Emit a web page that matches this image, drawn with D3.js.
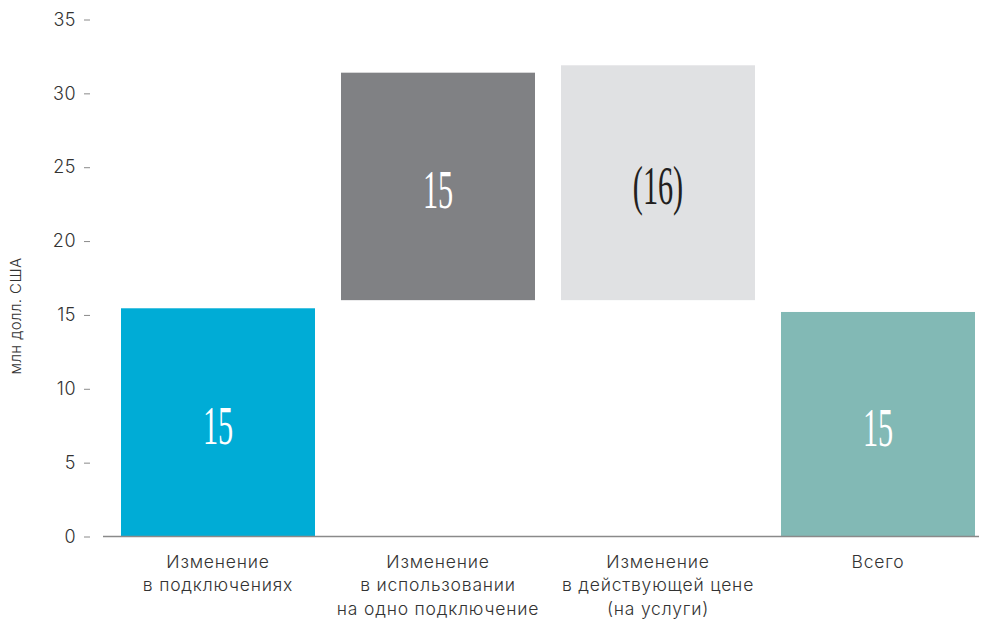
<!DOCTYPE html>
<html>
<head>
<meta charset="utf-8">
<script src="https://cdn.jsdelivr.net/npm/d3@7"></script>
<style>
  html, body { margin: 0; padding: 0; background: #fff; }
  svg { display: block; }
</style>
</head>
<body>
<svg id="chart" width="982" height="619"></svg>
<script>
// Revenue bridge, million US dollars
const categories = [
  ["Изменение", "в подключениях"],
  ["Изменение", "в использовании", "на одно подключение"],
  ["Изменение", "в действующей цене", "(на услуги)"],
  ["Всего"]
];
const bases  = [0, 16.0, 16.0, 0];        // where each bar starts
const values = [15.45, 15.4, -15.9, 15.2]; // change shown by each bar
const yTicks = [0, 5, 10, 15, 20, 25, 30, 35];
const colors = ["#00acd6", "#808184", "#e0e1e3", "#82b9b5"];
const labelColors = ["#ffffff", "#ffffff", "#231f20", "#ffffff"];
const yTitle = "млн долл. США";

const sans = "Inter, 'Noto Sans', sans-serif";
const svg = d3.select("#chart");

const x = d3.scaleBand()
  .domain(d3.range(categories.length))
  .range([121, 975])
  .paddingInner(26 / 220)
  .paddingOuter(0);

const y = d3.scaleLinear().domain([0, 35]).range([536.5, 19.5]);

const fmt = v => v < 0 ? `(${Math.round(-v)})` : `${Math.round(v)}`;

// y axis: labels with a short dash to their right, no domain line
const yAxis = d3.axisLeft(y).tickValues(yTicks).tickSize(6).tickPadding(8);
const gy = svg.append("g").attr("transform", "translate(90,0)").call(yAxis);
gy.select(".domain").remove();
gy.selectAll(".tick line").attr("stroke", "#8a8a8a").attr("stroke-width", 1);
gy.selectAll(".tick text")
  .attr("fill", "#333")
  .style("font-family", sans)
  .style("font-weight", 300)
  .style("letter-spacing", "0.5px")
  .style("font-size", "18px");

svg.append("text")
  .attr("transform", "translate(21,316) rotate(-90)")
  .attr("text-anchor", "middle")
  .attr("fill", "#333")
  .style("font-family", sans)
  .style("font-weight", 300)
  .style("letter-spacing", "0.4px")
  .style("font-size", "15px")
  .text(yTitle);

// bars
const data = values.map((v, i) => ({
  i, v,
  lo: bases[i],
  hi: bases[i] + Math.abs(v)
}));

svg.append("g").selectAll("rect")
  .data(data)
  .join("rect")
  .attr("x", d => x(d.i))
  .attr("width", x.bandwidth())
  .attr("y", d => y(d.hi))
  .attr("height", d => y(d.lo) - y(d.hi))
  .attr("fill", d => colors[d.i]);

// baseline
svg.append("line")
  .attr("x1", 103).attr("x2", 979)
  .attr("y1", y(0)).attr("y2", y(0))
  .attr("stroke", "#8a8a8a").attr("stroke-width", 1.5);

// value labels inside bars, tall condensed figures
svg.append("g").selectAll("text")
  .data(data)
  .join("text")
  .attr("transform", d => {
    const cx = x(d.i) + x.bandwidth() / 2;
    const cy = (y(d.lo) + y(d.hi)) / 2 + 3;
    return `translate(${cx},${cy}) scale(0.56,1)`;
  })
  .attr("text-anchor", "middle")
  .attr("dominant-baseline", "central")
  .attr("fill", d => labelColors[d.i])
  .style("font-family", "'Liberation Serif', 'DejaVu Serif', serif")
  .style("font-size", "54px")
  .text(d => fmt(d.v));

// category labels
const xl = svg.append("g").selectAll("text")
  .data(categories)
  .join("text")
  .attr("x", (d, i) => x(i) + x.bandwidth() / 2)
  .attr("y", 568)
  .attr("text-anchor", "middle")
  .attr("fill", "#333")
  .style("font-family", sans)
  .style("font-weight", 300)
  .style("letter-spacing", "0.8px")
  .style("font-size", "17.5px");
xl.selectAll("tspan")
  .data(d => d)
  .join("tspan")
  .attr("x", function () { return this.parentNode.getAttribute("x"); })
  .attr("dy", (d, j) => j === 0 ? 0 : 23.3)
  .text(d => d);
</script>
</body>
</html>
